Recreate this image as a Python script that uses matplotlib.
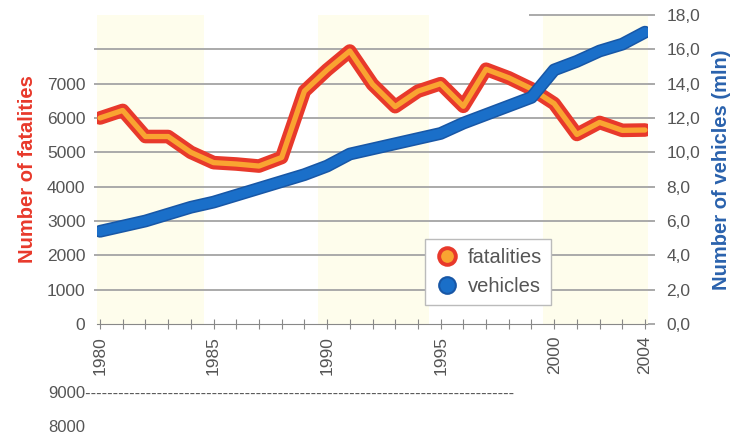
import matplotlib
matplotlib.use("Agg")
import matplotlib.pyplot as plt
from matplotlib.lines import Line2D
from matplotlib.patches import Rectangle

plt.rcParams['font.family'] = ['Liberation Sans', 'DejaVu Sans']

years = list(range(1980, 2005))
fatalities = [6000, 6220, 5460, 5460, 5000, 4700, 4660, 4600, 4850, 6780,
              7400, 7950, 6980, 6330, 6780, 7000, 6340, 7420, 7170, 6850,
              6420, 5520, 5870, 5640, 5650]
vehicles = [5.4, 5.7, 6.0, 6.4, 6.8, 7.1, 7.5, 7.9, 8.3, 8.7,
            9.2, 9.9, 10.2, 10.5, 10.8, 11.1, 11.7, 12.2, 12.7, 13.2,
            14.8, 15.3, 15.9, 16.3, 17.0]
left_ticks = [0, 1000, 2000, 3000, 4000, 5000, 6000, 7000]
right_ticks = [0, 2, 4, 6, 8, 10, 12, 14, 16, 18]
year_labels = [1980, 1985, 1990, 1995, 2000, 2004]

RED = '#e8392b'
ORANGE = '#f9a431'
BLUE = '#1a6fc9'
DBLUE = '#1857a6'
GRAY = '#555555'
GRID = '#aaaaaa'

fig = plt.figure(figsize=(7.38, 4.37), dpi=100)
ax = fig.add_axes([0.1309, 0.2586, 0.7477, 0.7071])
ax.set_xlim(1979.85, 2004.15)
ax.set_ylim(0, 9000)

# pale bands
for a, b in [(1979.7, 1984.6), (1989.6, 1994.5), (1999.5, 2004.15)]:
    ax.axvspan(a, b, color='#fefdec', zorder=0, lw=0)

# gridlines
for v in range(1000, 9000, 1000):
    ax.hlines(v, 1979.75, 2004.35, color=GRID, lw=1.4, clip_on=False, zorder=1)
ax.hlines(9000, 1998.9, 2004.35, color=GRID, lw=1.4, clip_on=False, zorder=1)

# fatalities
ax.plot(years, fatalities, color=RED, lw=9.8, solid_joinstyle='round',
        solid_capstyle='round', zorder=3)
ax.plot(years, fatalities, color=ORANGE, lw=3.8, solid_joinstyle='round',
        solid_capstyle='round', zorder=4)

for s in ['top', 'left', 'right']:
    ax.spines[s].set_visible(False)
ax.spines['bottom'].set_color('#888888')
ax.spines['bottom'].set_zorder(2)

ax.set_yticks(left_ticks)
ax.set_yticklabels([str(t) for t in left_ticks])
ax.tick_params(axis='y', length=0, pad=8, labelsize=12.5, labelcolor=GRAY)
ax.set_xticks(years)
ax.set_xticklabels([str(y) if y in year_labels else '' for y in years],
                   rotation=90)
ax.tick_params(axis='x', direction='inout', length=7, color='#888888',
               labelsize=12.5, labelcolor=GRAY, pad=5)

ax.set_ylabel('Number of fatalities', color=RED, fontsize=14.5,
              fontweight='bold')
ax.yaxis.set_label_coords(-0.108, 0.5)

# vehicles on right axis
ax2 = ax.twinx()
ax2.set_ylim(0, 18)
ax2.plot(years, vehicles, color=DBLUE, lw=9.2, solid_joinstyle='round',
         solid_capstyle='round', zorder=3)
ax2.plot(years, vehicles, color=BLUE, lw=7.0, solid_joinstyle='round',
         solid_capstyle='round', zorder=4)
for s in ['top', 'left', 'right', 'bottom']:
    ax2.spines[s].set_visible(False)
ax2.set_yticks(right_ticks)
ax2.set_yticklabels([('%.1f' % t).replace('.', ',') for t in right_ticks])
ax2.tick_params(axis='y', length=5, color=GRID, width=1.4, pad=8,
                labelsize=12.5, labelcolor=GRAY)
ax2.set_ylabel('Number of vehicles (mln)', color='#2a62ad', fontsize=14.5,
               fontweight='bold')
ax2.yaxis.set_label_coords(1.115, 0.5)

handles = [
    Line2D([], [], ls='none', marker='o', markersize=12, markerfacecolor=ORANGE,
           markeredgecolor=RED, markeredgewidth=2.8),
    Line2D([], [], ls='none', marker='o', markersize=12, markerfacecolor=BLUE,
           markeredgecolor=DBLUE, markeredgewidth=1.5),
]
leg = ax2.legend(handles, ['fatalities', 'vehicles'], loc='center',
                 bbox_to_anchor=(0.709, 0.168), fontsize=14.5, frameon=True,
                 fancybox=False, edgecolor='#bbbbbb', framealpha=1,
                 handletextpad=0.4, borderpad=0.45, labelspacing=0.5,
                 handlelength=1.3)
for t in leg.get_texts():
    t.set_color(GRAY)

# partly hidden top label and stray text below the chart
fig.text(89 / 738, 1 - 5 / 437, '9000', ha='right', va='center',
         fontsize=12.5, color=GRAY)
fig.patches.append(Rectangle((0, 1 - 10 / 437), 530 / 738, 10 / 437,
                             transform=fig.transFigure, color='white',
                             zorder=5))
fig.text(48 / 738, 1 - 393 / 437, '9000' + '-' * 78, ha='left', va='center',
         fontsize=12, color=GRAY)
fig.text(48 / 738, 1 - 428 / 437, '8000', ha='left', va='center',
         fontsize=12, color=GRAY)

fig.savefig('out.png', dpi=100)
